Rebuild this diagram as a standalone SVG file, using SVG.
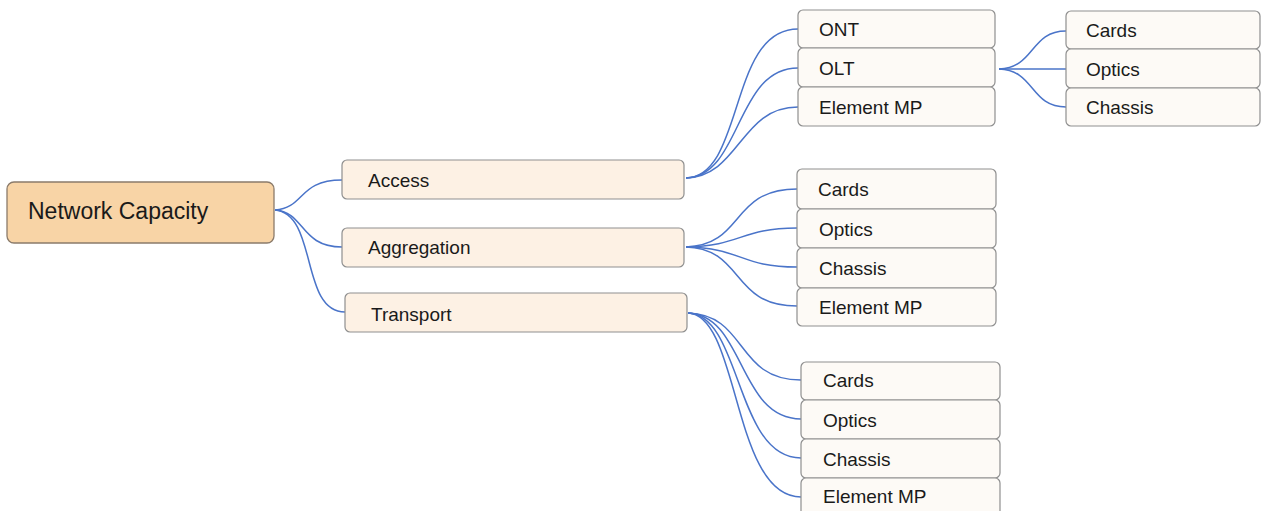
<svg xmlns="http://www.w3.org/2000/svg" width="1261" height="511" viewBox="0 0 1261 511">
<style>
text{font-family:"Liberation Sans",Arial,sans-serif;fill:#1a1a1a}
.root rect{fill:#F8D4A6;stroke:#8b7b6b;stroke-width:1.3}
.root text{font-size:23px}
.l1 rect{fill:#FDF1E4;stroke:#8f8f8f;stroke-width:1.2}
.l1 text,.l2 text{font-size:19px}
.l2 rect{fill:#FDFAF6;stroke:#8f8f8f;stroke-width:1.2}
.c path{fill:none;stroke:#4a74c9;stroke-width:1.5}
</style>
<rect width="1261" height="511" fill="#ffffff"/>
<g class="c" id="connectors">
<path d="M275,210 C305,208 298,180 342,180"/>
<path d="M275,210 C305,212 300,247 342,247"/>
<path d="M275,210 C318,214 300,312 345,312"/>
<path d="M686,178 C745,176 728,29 798,29"/>
<path d="M686,178 C742,176 735,68 798,68"/>
<path d="M686,178 C740,176 740,107 798,107"/>
<path d="M686,247 C745,245 730,189 797,189"/>
<path d="M686,247 C742,246 740,228 797,228"/>
<path d="M686,247 C742,248 740,267 797,267"/>
<path d="M686,247 C745,249 730,306 797,306"/>
<path d="M688,313 C748,315 735,380 801,380"/>
<path d="M688,313 C745,315 738,419 801,419"/>
<path d="M688,313 C742,315 735,458 801,458"/>
<path d="M688,313 C740,315 732,497 801,497"/>
<path d="M999,69 C1035,68 1030,31 1066,31"/>
<path d="M999,69 L1066,69"/>
<path d="M999,69 C1035,70 1030,107 1066,107"/>
</g>
<g class="root" id="n-network-capacity"><rect x="7" y="182" width="267" height="61" rx="7"/><text x="28" y="219">Network Capacity</text></g>
<g class="l1" id="n-access"><rect x="342" y="160" width="342" height="39" rx="5"/><text x="368" y="187">Access</text></g>
<g class="l1" id="n-aggregation"><rect x="342" y="228" width="342" height="39" rx="5"/><text x="368" y="254">Aggregation</text></g>
<g class="l1" id="n-transport"><rect x="345" y="293" width="342" height="39" rx="5"/><text x="371" y="321">Transport</text></g>
<g class="l2" id="n-ont"><rect x="798" y="10" width="197" height="38" rx="5"/><text x="819" y="36">ONT</text></g>
<g class="l2" id="n-olt"><rect x="798" y="48" width="197" height="39" rx="5"/><text x="819" y="75">OLT</text></g>
<g class="l2" id="n-access-emp"><rect x="798" y="87" width="197" height="39" rx="5"/><text x="819" y="114">Element MP</text></g>
<g class="l2" id="n-olt-cards"><rect x="1066" y="11" width="194" height="38" rx="5"/><text x="1086" y="37">Cards</text></g>
<g class="l2" id="n-olt-optics"><rect x="1066" y="49" width="194" height="39" rx="5"/><text x="1086" y="76">Optics</text></g>
<g class="l2" id="n-olt-chassis"><rect x="1066" y="88" width="194" height="38" rx="5"/><text x="1086" y="114">Chassis</text></g>
<g class="l2" id="n-agg-cards"><rect x="797" y="169" width="199" height="40" rx="5"/><text x="818" y="196">Cards</text></g>
<g class="l2" id="n-agg-optics"><rect x="797" y="209" width="199" height="39" rx="5"/><text x="819" y="236">Optics</text></g>
<g class="l2" id="n-agg-chassis"><rect x="797" y="248" width="199" height="40" rx="5"/><text x="819" y="275">Chassis</text></g>
<g class="l2" id="n-agg-emp"><rect x="797" y="288" width="199" height="38" rx="5"/><text x="819" y="314">Element MP</text></g>
<g class="l2" id="n-tr-cards"><rect x="801" y="362" width="199" height="38" rx="5"/><text x="823" y="387">Cards</text></g>
<g class="l2" id="n-tr-optics"><rect x="801" y="400" width="199" height="39" rx="5"/><text x="823" y="427">Optics</text></g>
<g class="l2" id="n-tr-chassis"><rect x="801" y="439" width="199" height="39" rx="5"/><text x="823" y="466">Chassis</text></g>
<g class="l2" id="n-tr-emp"><rect x="801" y="478" width="199" height="40" rx="5"/><text x="823" y="503">Element MP</text></g>
</svg>
